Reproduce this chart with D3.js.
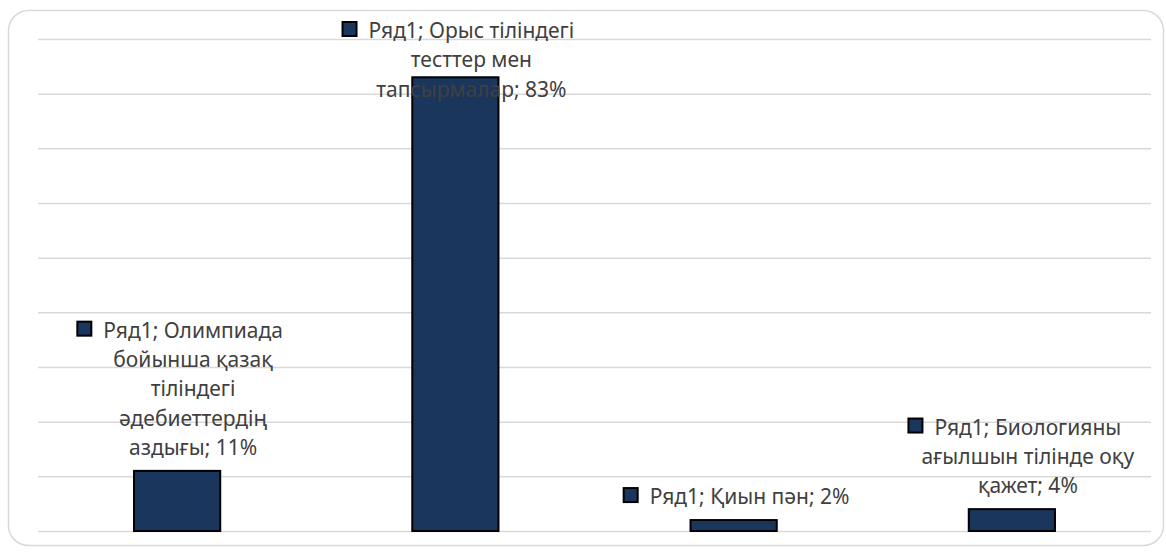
<!DOCTYPE html>
<html>
<head>
<meta charset="utf-8">
<script src="https://cdn.jsdelivr.net/npm/d3@7"></script>
<style>
    body { margin: 0; background: #fff; }
    .grid line { stroke: #d9d9d9; stroke-width: 1.5; }
    .lbl text { font-family: "Noto Sans", sans-serif; font-size: 21px; fill: #404040; }
</style>
</head>
<body>
<div class="chart"></div>
<script>
var categories = [
    ["Олимпиада", "бойынша қазақ", "тіліндегі", "әдебиеттердің", "аздығы"],
    ["Орыс тіліндегі", "тесттер мен", "тапсырмалар"],
    ["Қиын пән"],
    ["Биологияны", "ағылшын тілінде оқу", "қажет"]
];
var values = [0.11, 0.83, 0.02, 0.04];
var seriesName = "Ряд1";
var gridTicks = [0, 0.1, 0.2, 0.3, 0.4, 0.5, 0.6, 0.7, 0.8, 0.9];

function init() {
    var w = 1166;
    var h = 553;
    var left = 38, right = 1151, top = 39, bottom = 531;
    var lineH = 29.3;

    var svg = d3.select(".chart")
        .append("svg")
        .attr("width", w)
        .attr("height", h);

    // chart frame
    svg.append("rect")
        .attr("x", 8.5)
        .attr("y", 10.5)
        .attr("width", 1155)
        .attr("height", 535)
        .attr("rx", 20)
        .style("fill", "none")
        .style("stroke", "#d9d9d9")
        .style("stroke-width", 1.5);

    var xScale = d3.scaleBand()
        .domain(d3.range(values.length))
        .range([left, right])
        .paddingInner(0.683)
        .paddingOuter(0.3415);

    var yScale = d3.scaleLinear()
        .domain([0, 0.9])
        .range([bottom, top]);

    var yAxis = d3.axisLeft(yScale)
        .tickValues(gridTicks)
        .tickSize(-(right - left))
        .tickFormat("");

    var g = svg.append("g")
        .attr("class", "grid")
        .attr("transform", "translate(" + left + ",0)")
        .call(yAxis);
    g.select(".domain").remove();

    svg.selectAll("rect.bar")
        .data(values)
        .enter()
        .append("rect")
        .attr("class", "bar")
        .attr("x", function (d, i) { return xScale(i) + 1; })
        .attr("y", function (d) { return yScale(d); })
        .attr("width", xScale.bandwidth() - 2)
        .attr("height", function (d) { return yScale(0) - yScale(d); })
        .style("fill", "#1b365d")
        .style("stroke", "#000")
        .style("stroke-width", 2);

    // data labels with legend key
    values.forEach(function (v, i) {
        var lines = categories[i].slice();
        lines[0] = seriesName + "; " + lines[0];
        lines[lines.length - 1] = lines[lines.length - 1] + "; " + Math.round(v * 100) + "%";

        var lbl = svg.append("g").attr("class", "lbl");
        var texts = lbl.selectAll("text")
            .data(lines)
            .enter()
            .append("text")
            .attr("text-anchor", "middle")
            .attr("dominant-baseline", "central")
            .text(function (d) { return d; });

        var blockW = 0;
        texts.each(function () { blockW = Math.max(blockW, this.getComputedTextLength()); });

        var keySize = 14, gap = 12;
        var boxW = keySize + gap + blockW;
        var cx = xScale(i) + xScale.bandwidth() / 2 + 3;
        var blockLeft = cx - boxW / 2 + keySize + gap;
        var blockCx = blockLeft + blockW / 2;

        var lastY = yScale(v) - 24;
        var firstY = Math.max(30, lastY - (lines.length - 1) * lineH);

        texts.attr("x", blockCx)
            .attr("y", function (d, j) { return firstY + j * lineH; });

        var firstW = texts.nodes()[0].getComputedTextLength();
        lbl.append("rect")
            .attr("x", blockCx - firstW / 2 - gap - keySize)
            .attr("y", firstY - keySize / 2 - 1)
            .attr("width", keySize)
            .attr("height", keySize)
            .style("fill", "#1b365d")
            .style("stroke", "#000")
            .style("stroke-width", 2);
    });
}

init();
</script>
</body>
</html>
